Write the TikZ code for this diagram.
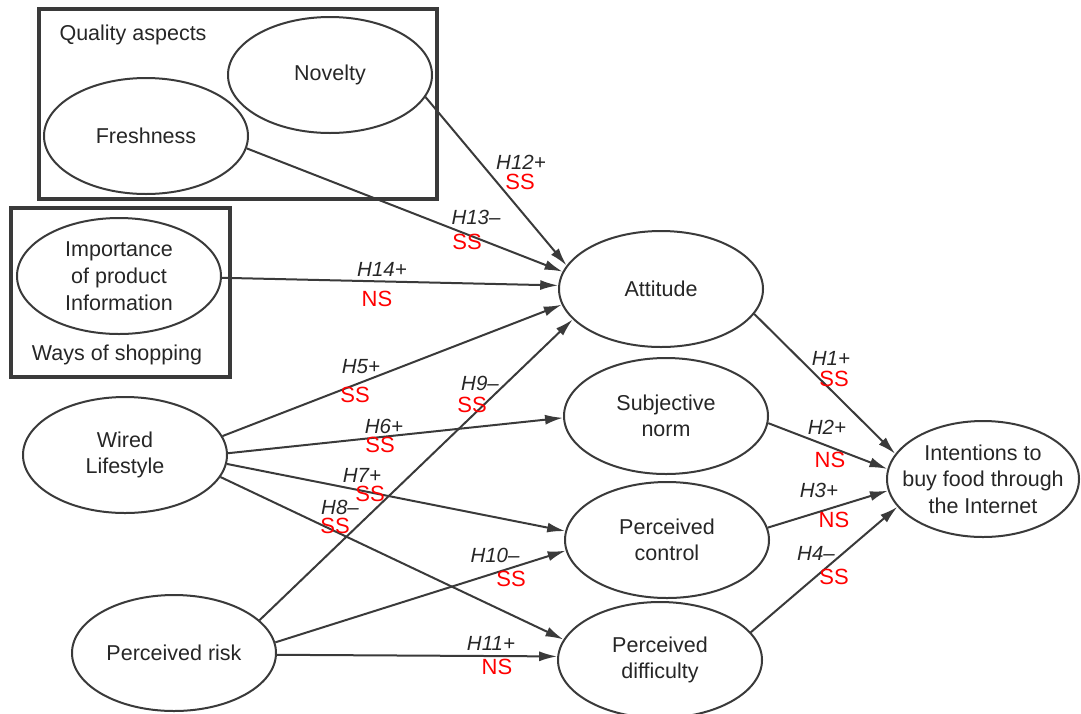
\documentclass[tikz,border=0pt]{standalone}
\usepackage{fontspec}
\setmainfont{Liberation Sans}
\usetikzlibrary{shapes.geometric,arrows.meta}
\definecolor{ln}{HTML}{3A3A3A}
\definecolor{tx}{HTML}{262626}
\definecolor{sigred}{HTML}{FF0000}
\begin{document}
\begin{tikzpicture}[x=1pt,y=-1pt,
  every node/.style={font=\fontsize{21.5}{26}\selectfont, text=tx},
  construct/.style={ellipse, draw=ln, line width=2pt, minimum width=204pt,
    minimum height=116pt, inner sep=-15pt, align=center},
  groupbox/.style={draw=ln, line width=3.2pt},
  link/.style={draw=ln, line width=2pt, -{Latex[length=18pt,width=10pt]}},
  hyp/.style={font=\itshape\fontsize{20.5}{24}\selectfont, text=tx},
  sigtxt/.style={font=\fontsize{22}{24}\selectfont, text=sigred}]
\useasboundingbox (0,0) rectangle (1081,713);

% group boxes
\draw[groupbox] (39,9) rectangle (437,199);
\draw[groupbox] (11,208) rectangle (230,377);
\node[anchor=west] (qa) at (56,35) {Quality aspects};
\node (ws) at (117,355) {Ways of shopping};

% constructs
\node[construct] (nov) at (330,75) {Novelty};
\node[construct] (fre) at (146,136) {Freshness};
\node[construct, font=\fontsize{21.5}{27}\selectfont] (imp) at (119,276) {Importance\\of product\\Information};
\node[construct] (wir) at (125,455) {Wired\\Lifestyle};
\node[construct] (ris) at (174,653) {Perceived risk};
\node[construct] (att) at (661,289) {Attitude};
\node[construct] (sub) at (666,416) {Subjective\\norm};
\node[construct] (con) at (667,540) {Perceived\\control};
\node[construct] (dif) at (660,660) {Perceived\\difficulty};
\node[construct, minimum width=192pt, font=\fontsize{21.5}{26.5}\selectfont] (int) at (983,479) {Intentions to\\buy food through\\the Internet};

% paths
\draw[link] (nov.-13) -- (att.166);
\draw[link] (fre.-7.8) -- (att.170);
\draw[link] (imp.-1) -- (att.178);
\draw[link] (wir.11.3) -- (att.189.5);
\draw[link] (ris.21.7) -- (att.199.4);
\draw[link] (wir.1.7) -- (sub.181.7);
\draw[link] (wir.-5.7) -- (con.175.5);
\draw[link] (ris.6.8) -- (con.186.8);
\draw[link] (wir.-13.3) -- (dif.168.3);
\draw[link] (ris.-1.1) -- (dif.178.9);
\draw[link] (att.-15.8) -- (int.164.7);
\draw[link] (sub.-4) -- (int.174.6);
\draw[link] (con.7.3) -- (int.187);
\draw[link] (dif.17.3) -- (int.198);

% hypothesis labels
\node[hyp] (h12) at (521,162) {H12+};  \node[sigtxt] (s12) at (520,182) {SS};
\node[hyp] (h13) at (476,217) {H13–};  \node[sigtxt] (s13) at (467,242) {SS};
\node[hyp] (h14) at (382,269) {H14+};  \node[sigtxt] (s14) at (377,299) {NS};
\node[hyp] (h5) at (361,367) {H5+};    \node[sigtxt] (s5) at (355,395) {SS};
\node[hyp] (h9) at (480,383) {H9–};    \node[sigtxt] (s9) at (472,405) {SS};
\node[hyp] (h6) at (384,426) {H6+};    \node[sigtxt] (s6) at (380,445) {SS};
\node[hyp] (h7) at (362,475) {H7+};    \node[sigtxt] (s7) at (370,494) {SS};
\node[hyp] (h8) at (340,507) {H8–};    \node[sigtxt] (s8) at (335,526) {SS};
\node[hyp] (h10) at (495,555) {H10–};  \node[sigtxt] (s10) at (511,579) {SS};
\node[hyp] (h11) at (491,643) {H11+};  \node[sigtxt] (s11) at (497,667) {NS};
\node[hyp] (h1) at (831,358) {H1+};    \node[sigtxt] (s1) at (834,379) {SS};
\node[hyp] (h2) at (827,427) {H2+};    \node[sigtxt] (s2) at (830,460) {NS};
\node[hyp] (h3) at (819,490) {H3+};    \node[sigtxt] (s3) at (834,520) {NS};
\node[hyp] (h4) at (816,553) {H4–};    \node[sigtxt] (s4) at (834,577) {SS};
\end{tikzpicture}
\end{document}
